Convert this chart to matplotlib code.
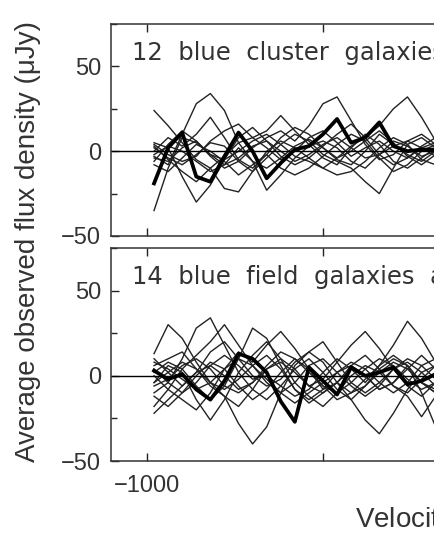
import numpy as np
import matplotlib
matplotlib.use("Agg")
import matplotlib.pyplot as plt
from matplotlib.ticker import MultipleLocator

plt.rcParams["font.family"] = ["Liberation Sans", "DejaVu Sans"]

# velocity channels (km/s)
velocity = [-980, -940, -900, -860, -820, -780, -740, -700, -660, -620, -580,
            -540, -500, -460, -420, -380, -340, -300, -260, -220, -180, -140]

# stacked (mean) spectra, thick lines
cluster_mean = [-19, 2, 11, -15, -18, -3, 11, 0, -16, -7, 1,
                3, 10, 19, 5, 8, 17, 3, 0, 1, 1, 0]
field_mean = [3, -2, 1, -8, -14, -3, 13, 10, 2, -15, -27,
              5, -3, -11, 5, 0, 2, 5, -5, -3, 1, 1]

# individual galaxies, thin lines
cluster_galaxies = [
    [24, 15, 5, -5, -10, -3, 5, 8, 2, -5, 0, 8, 12, 5, -3, 2, 6, 0, -4, 2, 5, 0],
    [-35, -10, 8, 5, -2, -8, -4, 3, 6, 0, -6, -2, 4, 8, 2, -4, -2, 3, 6, 2, -3, 0],
    [-3, -8, 10, 28, 34, 24, 5, -6, -10, -4, 3, 7, 2, -5, -8, 0, 10, 4, -2, -6, 0, 3],
    [5, 2, -15, -30, -20, -5, 8, 14, 6, -3, -8, -4, 3, 10, 16, 8, -2, -8, -4, 3, 8, 2],
    [0, 8, 3, 10, 20, 8, -5, -10, -2, 8, 14, 10, 2, -4, 0, 6, 12, 5, -3, -8, -2, 4],
    [-4, -6, 2, 6, -3, -10, -6, 2, 8, 12, 6, 15, 28, 32, 18, 4, -5, -2, 6, 10, 4, -2],
    [2, -4, -8, -2, 5, 3, -6, -12, -4, 4, 10, 6, -2, -6, -10, -18, -25, -10, 4, 8, 2, -4],
    [-6, 4, 12, 6, -2, -5, 0, 6, 10, 4, -3, -6, -10, -4, 3, 8, 15, 25, 32, 20, 6, -2],
    [3, -5, -12, -18, -10, -22, -24, -12, 0, 6, 2, -4, -10, -14, -12, -6, 2, 8, 4, -5, -8, -2],
    [-2, 3, 0, -6, -12, -8, 2, -6, -23, -14, -4, 3, 6, 2, -6, -10, -2, 6, 3, -3, 0, 4],
    [4, -2, -6, -3, 6, 12, 16, 8, 12, 21, 12, 4, -4, -8, 2, 10, 4, -6, -10, -4, 2, 6],
    [-8, -12, -4, 4, 0, -6, -14, -8, -2, -10, -14, -10, -3, 4, 10, 6, -4, -12, -8, 0, 4, 1],
]
field_galaxies = [
    [13, 30, 22, 8, -4, -12, -18, -8, 4, 10, 4, -6, -10, -4, 6, 12, 4, -6, -10, -2, 6, 2],
    [-10, -4, 10, 28, 34, 18, 2, -8, -14, -6, 4, 10, 2, -8, -14, -6, 4, 10, 6, -4, -10, -3],
    [-18, -8, 4, 12, 20, 30, 18, 6, -4, -10, -4, 6, 10, 2, -6, -12, -6, 4, 8, 2, -6, -2],
    [2, 8, 4, -6, -14, -6, 10, 28, 22, 6, -8, -14, -8, 2, 8, 4, -4, -10, -4, 6, 10, 4],
    [6, 10, 14, 4, -6, -12, -28, -40, -30, -10, 6, 14, 8, -4, -10, -6, 2, 8, 4, -4, -8, -2],
    [-6, -2, 6, 10, 4, -6, -10, -4, 4, 8, 2, -6, -2, 8, 18, 26, 16, 4, -6, -12, -4, 2],
    [4, -4, -10, -4, 6, 12, 6, -2, 0, -6, -12, -8, 2, 10, 4, -4, 6, 18, 32, 22, 8, -2],
    [-4, 2, 8, 4, -4, -8, -2, 6, 12, 4, -8, -16, -10, -4, -14, -26, -34, -22, -8, 2, 6, 2],
    [8, 4, -2, -8, -4, 4, 10, 6, -2, -10, -16, -10, -4, 2, 6, 0, -8, -4, 6, -10, -30, -40],
    [-22, -14, -6, 2, 6, 0, -8, -4, 6, 14, 10, 2, -6, -10, -4, 4, 10, 6, -2, -8, -4, 4],
    [-4, 6, 2, -14, -26, -14, 2, 12, 20, 10, -4, -12, -18, -10, 0, 6, 2, -6, -12, -24, -12, 2],
    [10, 2, -6, 2, 14, 20, 10, 0, -6, -2, 8, 14, 20, 8, -4, -10, -4, 4, 10, 6, -2, -6],
    [-12, -18, -10, 0, 8, 4, -6, -14, -8, 2, 10, 4, -6, -14, -10, -2, 6, 12, 6, -4, -10, -4],
    [0, -8, -14, -20, -10, 4, 14, 8, 18, 26, 16, 4, -8, -4, 4, 0, -8, -4, 4, 12, 4, -2],
]

panel_labels = ["12  blue  cluster  galaxies", "14  blue  field  galaxies  at"]

W, H = 434, 533
fig = plt.figure(figsize=(W / 100, H / 100), dpi=100)

# axes run past the right edge of the figure (the reference is cropped)
left = 111 / W
width = (445 - 111) / W
ax_top = fig.add_axes([left, 1 - 236 / H, width, 212 / H])
ax_bot = fig.add_axes([left, 1 - 461 / H, width, 213 / H])

x0 = -1000 - 36 * 500 / 176
x1 = -1000 + (445 - 147) * 500 / 176

for ax, gals, mean, label in [
    (ax_top, cluster_galaxies, cluster_mean, panel_labels[0]),
    (ax_bot, field_galaxies, field_mean, panel_labels[1]),
]:
    for g in gals:
        ax.plot(velocity, g, color="#222222", lw=1.0, solid_joinstyle="round")
    ax.plot(velocity, mean, color="black", lw=2.7, solid_joinstyle="round")
    ax.axhline(0, color="black", lw=1.0)
    ax.set_xlim(x0, x1)
    ax.set_ylim(-50, 75)
    ax.set_xticks([-1000, -500])
    ax.set_yticks([-50, 0, 50])
    ax.yaxis.set_minor_locator(MultipleLocator(25))
    ax.tick_params(which="both", direction="in", top=True, right=True,
                   labelsize=17, width=1.0, color="#222222", labelcolor="#333333")
    ax.tick_params(which="major", length=6)
    ax.tick_params(which="minor", length=4)
    ax.tick_params(axis="y", pad=7)
    ax.tick_params(axis="x", pad=10)
    for s in ax.spines.values():
        s.set_linewidth(1.1)
        s.set_color("#333333")
    ax.text(-1043, 54, label, family="DejaVu Sans", fontsize=17.5,
            color="#333333", va="baseline", ha="left")

ax_top.set_xticklabels([])
ax_bot.set_xticklabels(["\u22121000", ""])
ax_bot.set_yticklabels(["\u221250", "0", "50"])
ax_top.set_yticklabels(["\u221250", "0", "50"])

fig.text(28 / W, 1 - 242 / H, "Average observed flux density (\u03bcJy)",
         rotation=90, ha="center", va="center", fontsize=20, color="#333333")
fig.text(355 / W, 1 - 528 / H, "Velocity (km s$^{-1}$)", ha="left",
         va="baseline", fontsize=20, color="#333333")

fig.savefig("out.png", dpi=100)
